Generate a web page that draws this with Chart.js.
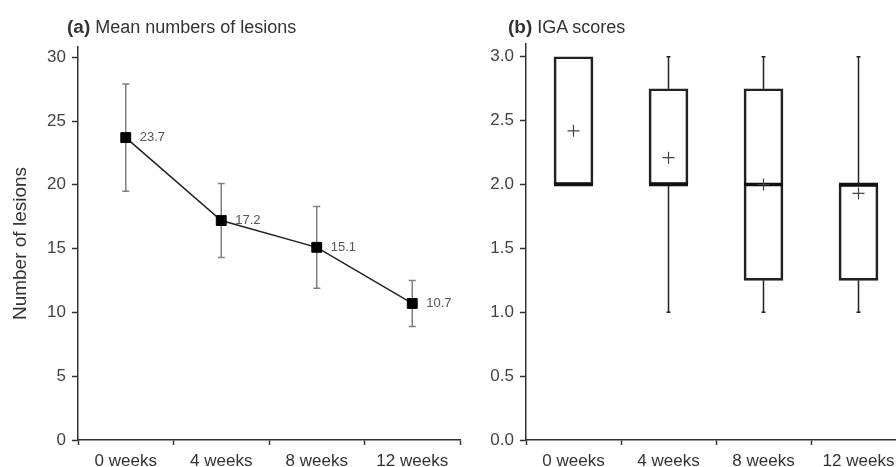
<!DOCTYPE html>
<html>
<head>
<meta charset="utf-8">
<script src="https://cdn.jsdelivr.net/npm/chart.js@4"></script>
<style>
    html, body { margin: 0; padding: 0; background: #fff; overflow: hidden; width: 896px; height: 467px; }
    #wrap { position: relative; width: 896px; height: 467px; overflow: hidden; }
    canvas { position: absolute; top: 0; }
    #lesionChart { left: 0; }
    #igaChart { left: 448px; }
    .panel-title { position: absolute; top: 16px; font-family: 'Liberation Sans', Arial, sans-serif; font-size: 18px; color: #333; white-space: nowrap; }
    .panel-title b { font-size: 19px; }
</style>
</head>
<body>
<div id="wrap">
    <canvas id="lesionChart" width="470" height="480"></canvas>
    <canvas id="igaChart" width="460" height="480"></canvas>
    <div class="panel-title" style="left:67px"><b>(a)</b> Mean numbers of lesions</div>
    <div class="panel-title" style="left:508px"><b>(b)</b> IGA scores</div>
</div>
<script>
// categories
const weeks = ['0 weeks', '4 weeks', '8 weeks', '12 weeks'];

// (a) mean number of lesions with error bars
const lesionMean = [23.7, 17.2, 15.1, 10.7];
const lesionLow = [19.5, 14.3, 11.9, 8.9];
const lesionHigh = [27.9, 20.1, 18.3, 12.5];
const lesionTicks = [0, 5, 10, 15, 20, 25, 30];

// (b) IGA scores, box plot
const igaMin = [2, 1, 1, 1];
const igaQ1 = [2, 2, 1.25, 1.25];
const igaMedian = [2, 2, 2, 2];
const igaQ3 = [3, 2.75, 2.75, 2];
const igaMax = [3, 3, 3, 3];
const igaMean = [2.42, 2.21, 2.0, 1.93];
const igaTicks = [0, 0.5, 1, 1.5, 2, 2.5, 3];

Chart.defaults.font.family = "'Liberation Sans', Arial, sans-serif";
Chart.defaults.color = '#333';

const axisColor = '#333';

// error bars for panel (a)
const errorBars = {
    id: 'errorBars',
    beforeDatasetsDraw(chart) {
        const { ctx, scales: { x, y } } = chart;
        ctx.save();
        ctx.strokeStyle = '#808080';
        ctx.lineWidth = 1.5;
        lesionMean.forEach((m, i) => {
            const px = x.getPixelForValue(i);
            const top = y.getPixelForValue(lesionHigh[i]);
            const bot = y.getPixelForValue(lesionLow[i]);
            ctx.beginPath();
            ctx.moveTo(px, top); ctx.lineTo(px, bot);
            ctx.moveTo(px - 3.5, top); ctx.lineTo(px + 3.5, top);
            ctx.moveTo(px - 3.5, bot); ctx.lineTo(px + 3.5, bot);
            ctx.stroke();
        });
        ctx.restore();
    }
};

// value labels next to markers
const pointLabels = {
    id: 'pointLabels',
    afterDatasetsDraw(chart) {
        const { ctx } = chart;
        const meta = chart.getDatasetMeta(0);
        ctx.save();
        ctx.font = "13px 'Liberation Sans', Arial, sans-serif";
        ctx.fillStyle = '#555';
        ctx.textBaseline = 'middle';
        meta.data.forEach((pt, i) => {
            ctx.fillText(lesionMean[i].toFixed(1), pt.x + 14, pt.y);
        });
        ctx.restore();
    }
};

// whiskers for panel (b)
const whiskers = {
    id: 'whiskers',
    beforeDatasetsDraw(chart) {
        const { ctx, scales: { x, y } } = chart;
        ctx.save();
        ctx.strokeStyle = '#222';
        ctx.lineWidth = 1.5;
        weeks.forEach((w, i) => {
            const px = x.getPixelForValue(i);
            const segs = [[igaQ3[i], igaMax[i]], [igaQ1[i], igaMin[i]]];
            segs.forEach(([from, to]) => {
                if (from === to) return;
                const y1 = y.getPixelForValue(from);
                const y2 = y.getPixelForValue(to);
                ctx.beginPath();
                ctx.moveTo(px, y1); ctx.lineTo(px, y2);
                ctx.moveTo(px - 2, y2); ctx.lineTo(px + 2, y2);
                ctx.stroke();
            });
        });
        ctx.restore();
    }
};

function fixedTicks(values) {
    return (scale) => { scale.ticks = values.map(v => ({ value: v })); };
}

new Chart(document.getElementById('lesionChart'), {
    type: 'line',
    data: {
        labels: weeks,
        datasets: [{
            data: lesionMean,
            borderColor: '#222',
            borderWidth: 1.5,
            pointStyle: 'rect',
            pointRadius: 7,
            pointBackgroundColor: '#000',
            pointBorderColor: '#000',
            pointBorderWidth: 1,
            tension: 0
        }]
    },
    options: {
        responsive: false,
        animation: false,
        devicePixelRatio: 1,
        layout: { autoPadding: false, padding: { left: 0, right: 10, top: 47, bottom: 0 } },
        plugins: { legend: { display: false }, tooltip: { enabled: false } },
        scales: {
            x: {
                offset: true,
                grid: { offset: true, drawOnChartArea: false, tickLength: 5, tickColor: axisColor, tickWidth: 1.5 },
                border: { color: axisColor, width: 1.5 },
                ticks: { font: { size: 17 }, color: '#333', padding: 6, maxRotation: 0 },
                afterFit: (s) => { s.height = 40; }
            },
            y: {
                min: 0,
                max: 30.8,
                afterBuildTicks: fixedTicks(lesionTicks),
                grid: { drawOnChartArea: false, tickLength: 6, tickColor: axisColor, tickWidth: 1.5 },
                border: { color: axisColor, width: 1.5 },
                ticks: { font: { size: 17 }, color: '#444', padding: 6 },
                title: { display: true, text: 'Number of lesions', font: { size: 19 }, color: '#333', padding: { top: 9, bottom: 0 } },
                afterFit: (s) => { s.width = 78; }
            }
        }
    },
    plugins: [errorBars, pointLabels]
});

new Chart(document.getElementById('igaChart'), {
    type: 'bar',
    data: {
        labels: weeks,
        datasets: [{
            type: 'bar',
            order: 3,
            data: igaQ1.map((q, i) => [q, igaQ3[i]]),
            backgroundColor: 'rgba(255,255,255,0)',
            borderColor: '#222',
            borderWidth: 2,
            borderSkipped: false,
            barThickness: 39
        }, {
            type: 'line',
            order: 2,
            data: igaMedian,
            showLine: false,
            pointStyle: 'line',
            pointRadius: 19.5,
            pointBorderColor: '#111',
            pointBorderWidth: 3.5
        }, {
            type: 'line',
            order: 1,
            data: igaMean,
            showLine: false,
            pointStyle: 'cross',
            pointRadius: 6,
            pointBorderColor: '#444',
            pointBorderWidth: 1.2
        }]
    },
    options: {
        responsive: false,
        animation: false,
        devicePixelRatio: 1,
        layout: { autoPadding: false, padding: { left: 0, right: 2, top: 44, bottom: 0 } },
        plugins: { legend: { display: false }, tooltip: { enabled: false } },
        scales: {
            x: {
                offset: true,
                grid: { offset: true, drawOnChartArea: false, tickLength: 5, tickColor: axisColor, tickWidth: 1.5 },
                border: { color: axisColor, width: 1.5 },
                ticks: { font: { size: 17 }, color: '#333', padding: 6, maxRotation: 0 },
                afterFit: (s) => { s.height = 40; }
            },
            y: {
                min: 0,
                max: 3.1,
                afterBuildTicks: fixedTicks(igaTicks),
                grid: { drawOnChartArea: false, tickLength: 6, tickColor: axisColor, tickWidth: 1.5 },
                border: { color: axisColor, width: 1.5 },
                ticks: { font: { size: 17 }, color: '#444', padding: 6, callback: (v) => Number(v).toFixed(1) },
                afterFit: (s) => { s.width = 78; }
            }
        }
    },
    plugins: [whiskers]
});
</script>
</body>
</html>
